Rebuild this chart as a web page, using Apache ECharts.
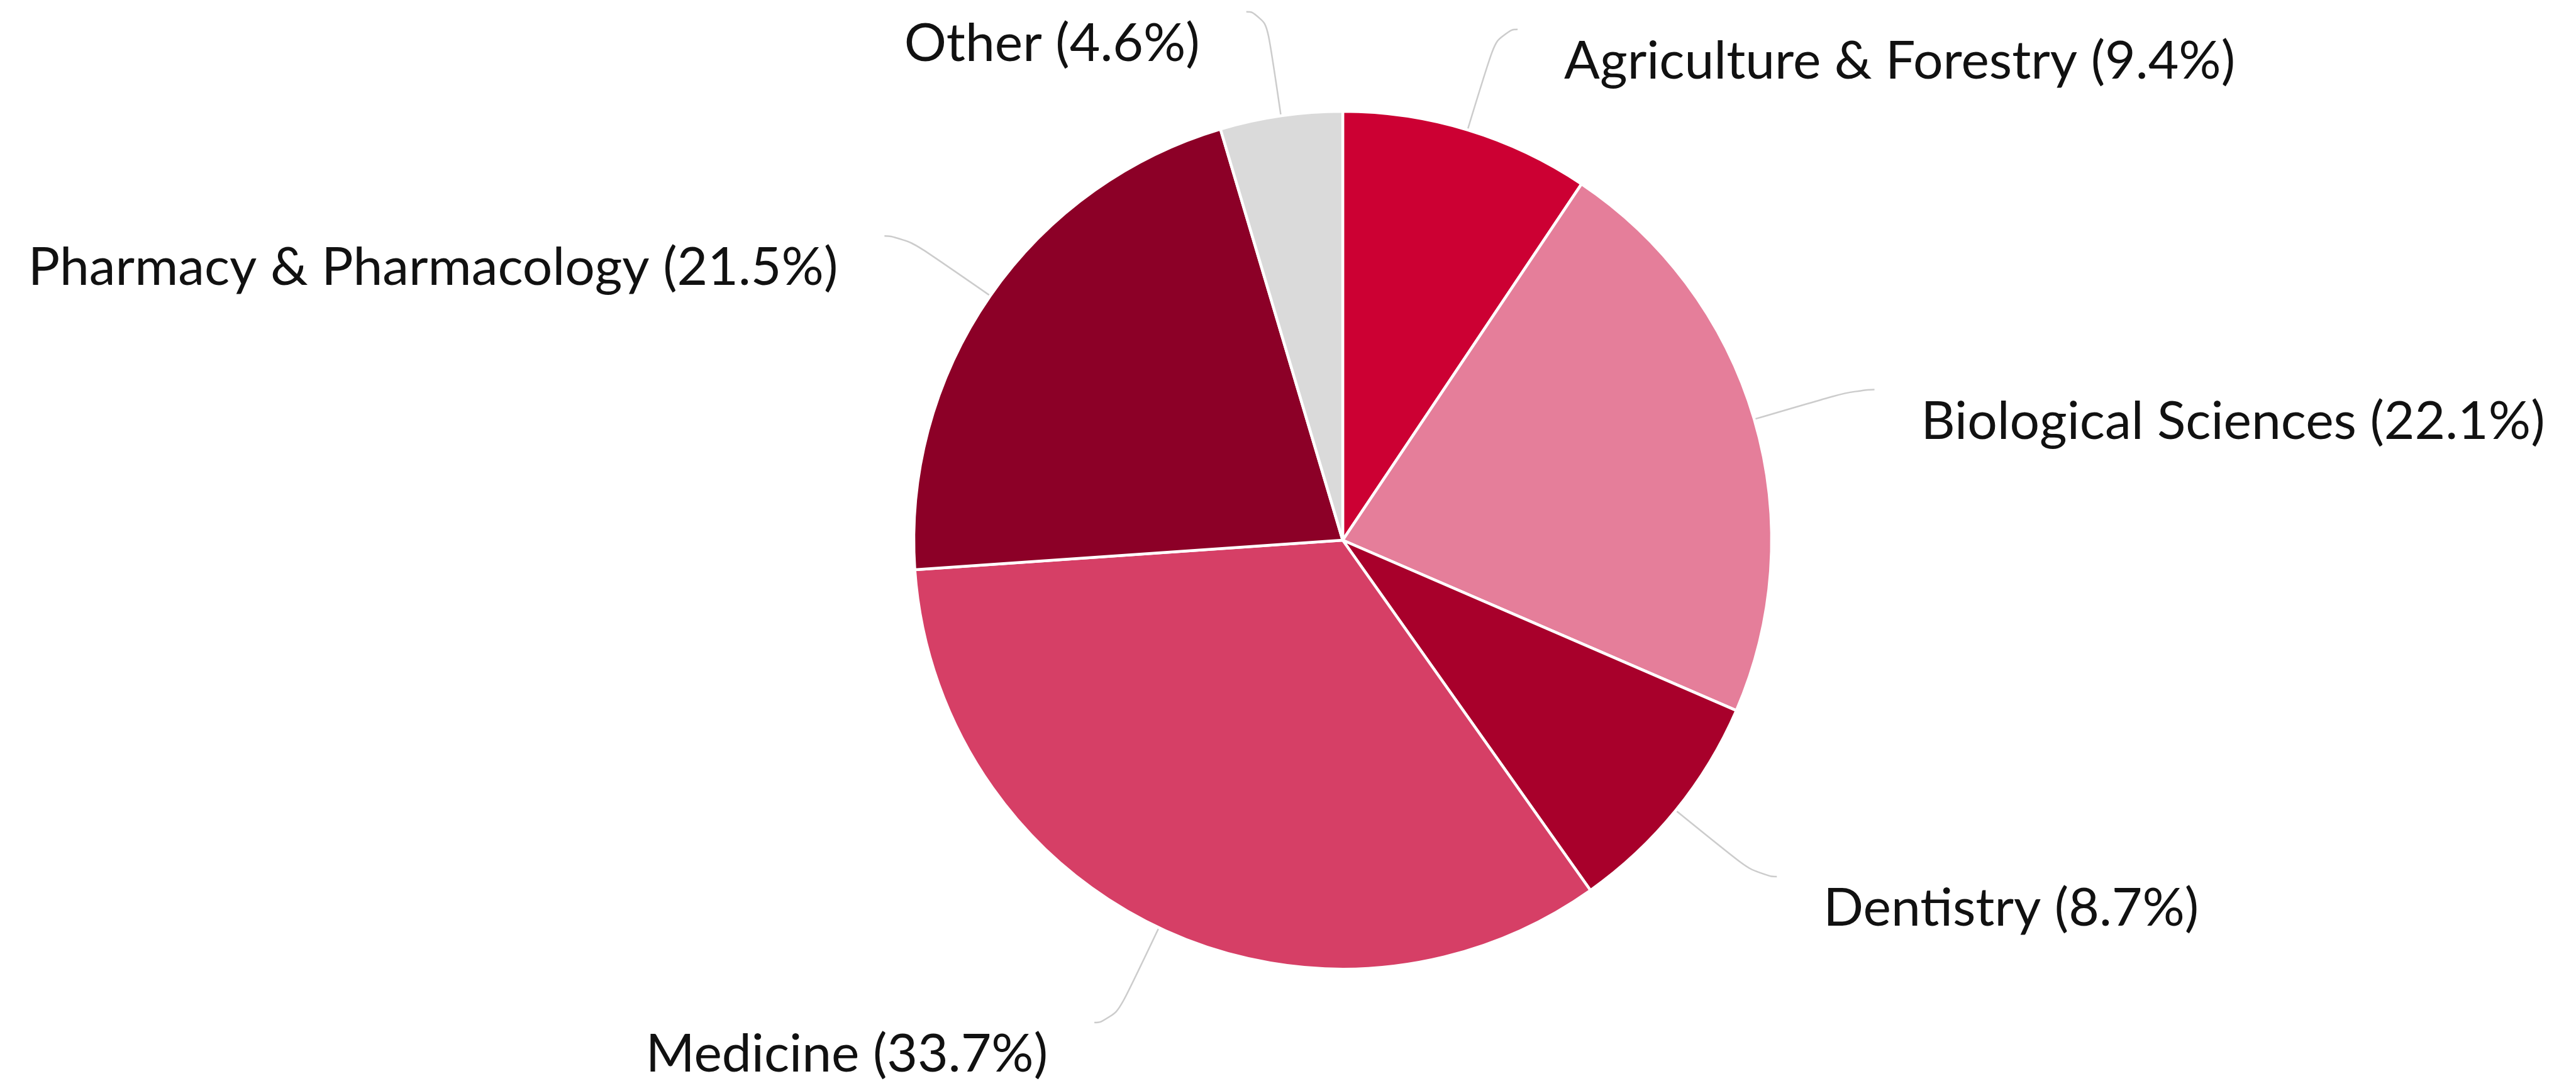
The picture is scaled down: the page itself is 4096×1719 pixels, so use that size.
<!DOCTYPE html>
<html>
<head>
<meta charset="utf-8">
<script src="https://cdn.jsdelivr.net/npm/echarts@6/dist/echarts.min.js"></script>
<style>
  html, body { margin: 0; padding: 0; background: #ffffff; }
  #chart { width: 4096px; height: 1719px; }
</style>
</head>
<body>
<div id="chart"></div>
<script>
const categories = [
  'Agriculture & Forestry',
  'Biological Sciences',
  'Dentistry',
  'Medicine',
  'Pharmacy & Pharmacology',
  'Other'
];
const shares = [9.4, 22.1, 8.7, 33.7, 21.5, 4.6];
const sliceColors = ['#CC0033', '#E57E9A', '#A8002B', '#D63F66', '#8C0027', '#DADADA'];

const chart = echarts.init(document.getElementById('chart'), null, { renderer: 'canvas' });

const data = categories.map((name, i) => ({
  name: name,
  value: shares[i],
  itemStyle: { color: sliceColors[i] }
}));

chart.setOption({
  backgroundColor: '#ffffff',
  animation: false,
  series: [{
    type: 'pie',
    center: [2135, 859],
    radius: 682,
    startAngle: 90,
    clockwise: true,
    avoidLabelOverlap: false,
    data: data,
    itemStyle: { borderColor: '#ffffff', borderWidth: 4.5 },
    label: {
      show: true,
      position: 'outside',
      formatter: p => p.name + ' (' + p.value.toFixed(1) + '%)',
      fontFamily: 'Lato',
      fontSize: 84,
      color: '#111111',
      distanceToLabelLine: 74
    },
    labelLine: {
      show: true,
      length: 167,
      length2: 31,
      smooth: 0.7,
      lineStyle: { color: '#cccccc', width: 2.5 }
    },
    labelLayout: function (params) {
      return { dy: 51, labelLinePoints: params.labelLinePoints };
    },
    emphasis: { disabled: true }
  }]
});
</script>
</body>
</html>
